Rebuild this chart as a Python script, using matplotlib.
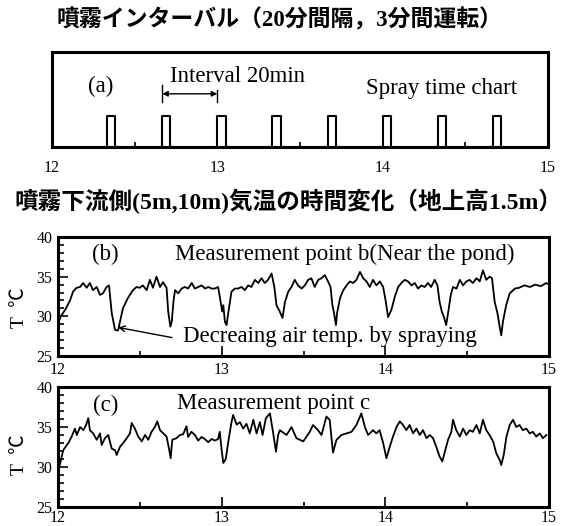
import matplotlib
matplotlib.use("Agg")
import matplotlib.pyplot as plt
import numpy as np
from matplotlib.ticker import MultipleLocator

# ---------------- data ----------------
# spray schedule (minutes after 12:00), each run 3 minutes
spray_start_min = [20, 40, 60, 80, 100, 120, 140, 160]
spray_duration_min = 3

# measurement point b (minutes after 12:00, temperature degC)
b_time = [0, 1.0, 2.6, 4.4, 5.5, 6.8, 8.1, 9.2, 10.5, 11.7, 12.8, 14.2, 15.4, 16.5, 17.8, 18.7,
          19.7, 20.9, 22.0, 22.7, 23.8, 25.6, 27.5, 28.8, 30.0, 31.1, 32.5, 33.7, 34.8, 36.1, 37.4,
          38.5, 39.8, 40.4, 41.2, 41.7, 42.3, 42.9, 44.1, 45.3, 46.5, 47.7, 49.0, 50.2, 51.4, 52.7,
          53.9, 55.1, 56.3, 57.5, 58.7, 59.4, 60.2, 60.6, 61.2, 61.8, 62.4, 63.6, 64.8, 66.0, 67.3,
          68.5, 69.7, 70.9, 72.2, 73.4, 74.6, 75.8, 77.0, 78.3, 79.3, 80.1, 81.3, 82.3, 83.2, 84.4,
          85.6, 86.8, 88.0, 89.3, 90.5, 91.7, 92.9, 94.1, 95.4, 96.6, 97.8, 99.0, 99.9, 100.6, 101.1,
          101.9, 102.3, 103.4, 104.6, 105.8, 107.0, 108.2, 109.4, 110.7, 111.9, 113.1, 114.3, 115.5,
          116.7, 118.0, 119.2, 120.2, 121.0, 122.2, 123.5, 124.7, 125.9, 127.1, 128.3, 129.6, 130.8,
          132.0, 133.2, 134.4, 135.6, 136.8, 138.1, 139.1, 139.9, 140.7, 141.5, 142.3, 142.9, 144.0,
          144.8, 146.1, 147.3, 148.5, 149.7, 150.9, 152.1, 153.4, 154.6, 155.8, 157.0, 158.2, 159.1,
          160.1, 161.1, 161.9, 162.5, 163.1, 164.3, 165.6, 167.5, 169.0, 171.0, 173.0, 175.0, 177.0,
          179.0, 180.0]
b_temp = [29.0, 30.0, 30.8, 32.0, 33.1, 33.6, 33.7, 34.2, 33.6, 34.2, 33.3, 33.7, 32.7, 32.9, 33.7, 33.9,
          30.4, 28.3, 28.2, 29.3, 31.0, 32.3, 33.3, 33.7, 33.6, 33.9, 33.3, 34.6, 33.6, 35.0, 33.7,
          34.3, 33.6, 30.6, 28.7, 29.3, 31.8, 33.3, 32.9, 33.5, 33.7, 33.5, 34.2, 33.5, 33.7, 33.9,
          33.5, 33.7, 33.5, 33.5, 33.7, 32.3, 30.6, 31.4, 29.3, 28.9, 30.4, 33.1, 33.5, 33.5, 33.7,
          33.3, 33.9, 33.7, 34.6, 34.2, 34.8, 34.2, 34.6, 35.4, 33.7, 31.4, 30.6, 29.8, 31.8, 33.1,
          33.7, 34.6, 33.9, 33.5, 33.9, 34.6, 34.8, 33.7, 34.6, 34.8, 35.2, 34.4, 33.7, 31.4, 30.6,
          28.9, 30.4, 32.3, 33.3, 33.9, 34.4, 34.2, 34.6, 35.6, 34.8, 34.4, 33.7, 34.6,
          33.9, 34.4, 33.7, 31.8, 29.9, 30.8, 32.5, 33.7, 34.2, 34.6, 34.4, 33.9, 34.2,
          33.5, 33.9, 33.7, 34.2, 33.7, 34.6, 33.9, 31.8, 30.6, 29.9, 28.9, 30.2, 32.7,
          33.7, 33.5, 34.6, 33.9, 34.4, 34.6, 34.2, 34.8, 34.4, 35.8, 34.6, 35.0, 34.8,
          31.8, 30.4, 28.7, 27.6, 29.3, 31.4, 32.9, 33.5, 33.6, 33.9, 33.7, 34.0, 33.8,
          34.2, 34.0]

# measurement point c
c_time = [0, 0.7, 1.9, 3.8, 5.0, 6.2, 6.9, 8.1, 9.3, 10.3, 11.1, 11.7, 12.9, 14.2, 15.4, 16.0, 17.2,
          18.4, 19.7, 20.9, 21.5, 22.7, 23.9, 25.2, 26.4, 27.0, 28.2, 29.4, 30.7, 31.9, 33.1, 34.3,
          35.5, 36.4, 37.4, 38.6, 39.8, 40.8, 41.3, 41.9, 43.4, 44.7, 45.9, 47.1, 47.7, 48.9, 50.2,
          51.4, 52.6, 53.8, 55.1, 56.3, 57.5, 58.7, 59.3, 60.0, 60.6, 61.5, 62.4, 63.6, 64.2, 65.5,
          66.7, 67.9, 69.1, 70.3, 71.6, 72.8, 74.0, 75.0, 76.2, 77.7, 78.9, 79.9, 80.7, 81.3, 83.8,
          85.6, 87.4, 89.9, 92.3, 93.5, 95.3, 96.6, 98.4, 99.6, 100.8, 102.1, 103.9, 105.7, 107.6,
          109.4, 111.2, 112.5, 113.7, 115.5, 116.7, 117.9, 119.2, 120.4, 121.6, 122.8, 124.1, 125.3,
          126.5, 127.7, 128.9, 130.2, 131.4, 132.6, 133.8, 135.1, 136.3, 137.5, 138.7, 139.9, 140.9,
          141.8, 143.0, 144.2, 144.8, 146.0, 147.3, 148.5, 149.7, 150.9, 152.1, 153.4, 154.6, 155.8,
          157.0, 158.2, 159.5, 160.7, 161.9, 162.5, 163.4, 164.4, 165.6, 166.8, 168.0, 169.2, 170.4,
          171.7, 172.9, 174.1, 175.3, 176.6, 177.8, 179.0]
c_temp = [29.8, 30.3, 32.1, 33.0, 33.8, 34.8, 34.0, 35.0, 34.6, 35.25, 36.1, 34.6, 34.2, 33.4, 34.2, 32.75, 33.6,
          34.0, 32.3, 32.1, 31.5, 32.5, 33.0, 33.6, 34.2, 35.5, 34.8, 33.8, 33.2, 34.0, 33.4, 34.4,
          35.0, 35.7, 34.6, 34.2, 33.8, 32.1, 31.1, 33.4, 33.6, 34.0, 34.1, 35.1, 33.75, 34.4, 34.0,
          33.3, 33.75, 33.5, 33.1, 33.5, 33.3, 33.5, 34.4, 32.1, 30.5, 31.0, 33.1, 35.6, 36.5, 35.3,
          35.6, 34.8, 35.4, 34.2, 35.9, 34.2, 35.6, 34.0, 36.1, 36.7, 34.2, 31.9, 34.0, 34.6, 34.0,
          35.0, 33.6, 33.2, 34.4, 35.25, 34.6, 34.0, 36.3, 35.9, 31.8, 33.4, 34.0, 34.2, 34.4,
          35.25, 36.7, 35.0, 34.0, 34.6, 34.2, 34.6, 33.0, 31.1, 32.5, 33.8, 35.0, 35.7,
          35.25, 34.6, 35.25, 34.2, 34.8, 34.0, 34.6, 33.6, 34.0, 33.6, 32.5, 31.3, 30.7,
          31.9, 33.4, 34.4, 35.9, 34.6, 33.8, 34.8, 34.0, 34.6, 34.4, 35.25, 34.2, 35.9,
          34.6, 34.0, 33.2, 31.7, 30.9, 30.25, 31.5, 33.8, 35.25, 35.9, 35.0, 35.25, 34.6,
          34.8, 34.2, 34.4, 33.8, 34.2, 33.6, 34.0]

x_ticks = [12, 13, 14, 15]
y_ticks = [25, 30, 35, 40]

# ---------------- figure ----------------
W, H = 563, 526
fig = plt.figure(figsize=(W / 100, H / 100), dpi=100)
serif = ['Liberation Serif', 'Noto Sans CJK JP']
plt.rcParams['font.family'] = serif
ANN = 16.5

def box(l, t, r, b):
    return [l / W, 1 - b / H, (r - l) / W, (b - t) / H]

ax_a = fig.add_axes(box(52, 52, 548, 147))
ax_b = fig.add_axes(box(58, 237, 549, 356))
ax_c = fig.add_axes(box(58, 387, 549, 507))

for ax in (ax_a, ax_b, ax_c):
    for s in ax.spines.values():
        s.set_linewidth(2.2)
    ax.set_xlim(12, 15)
    ax.set_xticks(x_ticks)
    ax.set_xticklabels([str(v) for v in x_ticks])
    ax.xaxis.set_minor_locator(MultipleLocator(0.5))
    ax.tick_params(axis='x', which='major', direction='in', length=7, width=1.2,
                   labelsize=11.5, pad=5, top=False)
    ax.tick_params(axis='x', which='minor', direction='in', length=3.5, width=1.2, top=False)

# ---- (a) spray chart ----
sx, sy = [12.0], [0.0]
for st in spray_start_min:
    t0 = 12 + st / 60
    t1 = 12 + (st + spray_duration_min) / 60
    sx += [t0, t0, t1, t1]
    sy += [0.0, 0.33, 0.33, 0.0]
sx.append(15.0)
sy.append(0.0)
ax_a.plot(sx, sy, color='black', lw=1.5)
ax_a.set_ylim(0, 1)
ax_a.set_yticks([])
ax_a.tick_params(axis='x', which='major', pad=9)
ax_a.text(0.073, 0.64, '(a)', transform=ax_a.transAxes, fontsize=ANN, va='center')
ax_a.text(0.238, 0.74, 'Interval 20min', transform=ax_a.transAxes, fontsize=ANN, va='center')
ax_a.text(0.633, 0.62, 'Spray time chart', transform=ax_a.transAxes, fontsize=ANN, va='center')
i0 = 12 + spray_start_min[1] / 60
i1 = 12 + spray_start_min[2] / 60
ax_a.annotate('', xy=(i1, 0.56), xytext=(i0, 0.56),
              arrowprops=dict(arrowstyle='<|-|>', color='black', lw=1.0,
                              mutation_scale=8, shrinkA=0, shrinkB=0))
ax_a.plot([i0, i0], [0.47, 0.65], color='black', lw=1.0)
ax_a.plot([i1, i1], [0.47, 0.60], color='black', lw=1.0)

# ---- (b), (c) ----
for ax, tt, vv in ((ax_b, b_time, b_temp), (ax_c, c_time, c_temp)):
    ax.plot([12 + t / 60 for t in tt], vv, color='black', lw=1.3)
    ax.set_ylim(25, 40)
    ax.set_yticks(y_ticks)
    ax.yaxis.set_minor_locator(MultipleLocator(1))
    ax.tick_params(axis='y', which='major', direction='in', length=7, width=1.2,
                   labelsize=11.5, pad=4, right=False)
    ax.tick_params(axis='y', which='minor', direction='in', length=4, width=1.2, right=False)

ax_b.tick_params(axis='x', which='major', pad=4)
ax_c.tick_params(axis='x', which='major', pad=2)

ax_b.text(0.069, 0.85, '(b)', transform=ax_b.transAxes, fontsize=ANN, va='center')
ax_b.text(0.238, 0.85, 'Measurement point b(Near the pond)', transform=ax_b.transAxes,
          fontsize=ANN, va='center')
ax_b.text(0.255, 0.16, 'Decreaing air temp. by spraying', transform=ax_b.transAxes,
          fontsize=ANN, va='center')
ax_b.annotate('', xy=(12 + 22.0 / 60, 28.6), xytext=(0.232, 0.155),
              textcoords='axes fraction',
              arrowprops=dict(arrowstyle='->', color='black', lw=1.0, shrinkA=0, shrinkB=0))

ax_c.text(0.071, 0.85, '(c)', transform=ax_c.transAxes, fontsize=ANN, va='center')
ax_c.text(0.242, 0.865, 'Measurement point c', transform=ax_c.transAxes,
          fontsize=ANN, va='center')

for ax, cy in ((ax_b, 308), (ax_c, 455)):
    fig.text(19 / W, 1 - cy / H, 'T  ℃', rotation=90, fontsize=14,
             ha='center', va='center', family=serif)

# titles
fig.text(0.497, 1 - 20 / H, '噴霧インターバル（20分間隔，3分間運転）', fontsize=16.5,
         ha='center', va='center', family=serif, fontweight='bold')
fig.text(0.513, 1 - 201 / H, '噴霧下流側(5m,10m)気温の時間変化（地上高1.5m）', fontsize=17,
         ha='center', va='center', family=serif, fontweight='bold')

fig.savefig('out.png', dpi=100)
